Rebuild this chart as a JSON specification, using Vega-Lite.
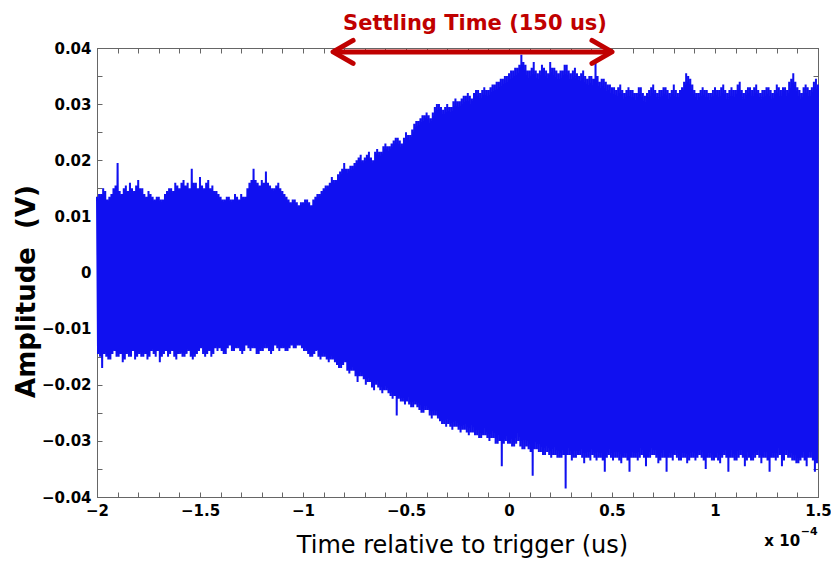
{
"$schema": "https://vega.github.io/schema/vega-lite/v6.json",
"width": 721, "height": 449,
"autosize": {"type": "none"},
"padding": {"left": 97, "top": 48, "right": 13, "bottom": 64},
"background": "white",
"config": {"view": {"stroke": "#666666", "strokeWidth": 1}},
"datasets": {
"sig": [
{"t":-2.000,"v":0.0135},{"t":-1.995,"v":-0.0145},{"t":-1.990,"v":0.0140},{"t":-1.985,"v":-0.0150},{"t":-1.980,"v":0.0140},{"t":-1.975,"v":-0.0170},{"t":-1.970,"v":0.0150},{"t":-1.965,"v":-0.0145},{"t":-1.960,"v":0.0145},{"t":-1.955,"v":-0.0150},
{"t":-1.950,"v":0.0130},{"t":-1.945,"v":-0.0155},{"t":-1.940,"v":0.0135},{"t":-1.935,"v":-0.0155},{"t":-1.930,"v":0.0140},{"t":-1.925,"v":-0.0145},{"t":-1.920,"v":0.0150},{"t":-1.915,"v":-0.0140},{"t":-1.910,"v":0.0155},{"t":-1.905,"v":-0.0150},
{"t":-1.900,"v":0.0195},{"t":-1.895,"v":-0.0150},{"t":-1.890,"v":0.0145},{"t":-1.885,"v":-0.0145},{"t":-1.880,"v":0.0140},{"t":-1.875,"v":-0.0160},{"t":-1.870,"v":0.0150},{"t":-1.865,"v":-0.0155},{"t":-1.860,"v":0.0155},{"t":-1.855,"v":-0.0145},
{"t":-1.850,"v":0.0145},{"t":-1.845,"v":-0.0150},{"t":-1.840,"v":0.0160},{"t":-1.835,"v":-0.0150},{"t":-1.830,"v":0.0150},{"t":-1.825,"v":-0.0140},{"t":-1.820,"v":0.0145},{"t":-1.815,"v":-0.0155},{"t":-1.810,"v":0.0155},{"t":-1.805,"v":-0.0150},
{"t":-1.800,"v":0.0165},{"t":-1.795,"v":-0.0145},{"t":-1.790,"v":0.0150},{"t":-1.785,"v":-0.0150},{"t":-1.780,"v":0.0150},{"t":-1.775,"v":-0.0150},{"t":-1.770,"v":0.0140},{"t":-1.765,"v":-0.0145},{"t":-1.760,"v":0.0135},{"t":-1.755,"v":-0.0155},
{"t":-1.750,"v":0.0145},{"t":-1.745,"v":-0.0150},{"t":-1.740,"v":0.0140},{"t":-1.735,"v":-0.0140},{"t":-1.730,"v":0.0135},{"t":-1.725,"v":-0.0145},{"t":-1.720,"v":0.0130},{"t":-1.715,"v":-0.0150},{"t":-1.710,"v":0.0135},{"t":-1.705,"v":-0.0140},
{"t":-1.700,"v":0.0135},{"t":-1.695,"v":-0.0160},{"t":-1.690,"v":0.0130},{"t":-1.685,"v":-0.0150},{"t":-1.680,"v":0.0130},{"t":-1.675,"v":-0.0145},{"t":-1.670,"v":0.0140},{"t":-1.665,"v":-0.0140},{"t":-1.660,"v":0.0145},{"t":-1.655,"v":-0.0150},
{"t":-1.650,"v":0.0150},{"t":-1.645,"v":-0.0145},{"t":-1.640,"v":0.0150},{"t":-1.635,"v":-0.0140},{"t":-1.630,"v":0.0145},{"t":-1.625,"v":-0.0150},{"t":-1.620,"v":0.0160},{"t":-1.615,"v":-0.0155},{"t":-1.610,"v":0.0155},{"t":-1.605,"v":-0.0145},
{"t":-1.600,"v":0.0150},{"t":-1.595,"v":-0.0145},{"t":-1.590,"v":0.0160},{"t":-1.585,"v":-0.0150},{"t":-1.580,"v":0.0165},{"t":-1.575,"v":-0.0150},{"t":-1.570,"v":0.0155},{"t":-1.565,"v":-0.0145},{"t":-1.560,"v":0.0160},{"t":-1.555,"v":-0.0140},
{"t":-1.550,"v":0.0150},{"t":-1.545,"v":-0.0150},{"t":-1.540,"v":0.0185},{"t":-1.535,"v":-0.0155},{"t":-1.530,"v":0.0160},{"t":-1.525,"v":-0.0150},{"t":-1.520,"v":0.0160},{"t":-1.515,"v":-0.0145},{"t":-1.510,"v":0.0150},{"t":-1.505,"v":-0.0140},
{"t":-1.500,"v":0.0170},{"t":-1.495,"v":-0.0135},{"t":-1.490,"v":0.0155},{"t":-1.485,"v":-0.0145},{"t":-1.480,"v":0.0150},{"t":-1.475,"v":-0.0150},{"t":-1.470,"v":0.0160},{"t":-1.465,"v":-0.0145},{"t":-1.460,"v":0.0165},{"t":-1.455,"v":-0.0140},
{"t":-1.450,"v":0.0150},{"t":-1.445,"v":-0.0150},{"t":-1.440,"v":0.0155},{"t":-1.435,"v":-0.0145},{"t":-1.430,"v":0.0145},{"t":-1.425,"v":-0.0135},{"t":-1.420,"v":0.0145},{"t":-1.415,"v":-0.0140},{"t":-1.410,"v":0.0140},{"t":-1.405,"v":-0.0135},
{"t":-1.400,"v":0.0135},{"t":-1.395,"v":-0.0140},{"t":-1.390,"v":0.0130},{"t":-1.385,"v":-0.0145},{"t":-1.380,"v":0.0130},{"t":-1.375,"v":-0.0145},{"t":-1.370,"v":0.0135},{"t":-1.365,"v":-0.0135},{"t":-1.360,"v":0.0135},{"t":-1.355,"v":-0.0130},
{"t":-1.350,"v":0.0130},{"t":-1.345,"v":-0.0140},{"t":-1.340,"v":0.0130},{"t":-1.335,"v":-0.0140},{"t":-1.330,"v":0.0140},{"t":-1.325,"v":-0.0135},{"t":-1.320,"v":0.0135},{"t":-1.315,"v":-0.0135},{"t":-1.310,"v":0.0130},{"t":-1.305,"v":-0.0140},
{"t":-1.300,"v":0.0140},{"t":-1.295,"v":-0.0145},{"t":-1.290,"v":0.0135},{"t":-1.285,"v":-0.0140},{"t":-1.280,"v":0.0135},{"t":-1.275,"v":-0.0130},{"t":-1.270,"v":0.0150},{"t":-1.265,"v":-0.0135},{"t":-1.260,"v":0.0160},{"t":-1.255,"v":-0.0140},
{"t":-1.250,"v":0.0165},{"t":-1.245,"v":-0.0135},{"t":-1.240,"v":0.0185},{"t":-1.235,"v":-0.0135},{"t":-1.230,"v":0.0165},{"t":-1.225,"v":-0.0145},{"t":-1.220,"v":0.0160},{"t":-1.215,"v":-0.0145},{"t":-1.210,"v":0.0155},{"t":-1.205,"v":-0.0140},
{"t":-1.200,"v":0.0165},{"t":-1.195,"v":-0.0140},{"t":-1.190,"v":0.0160},{"t":-1.185,"v":-0.0135},{"t":-1.180,"v":0.0180},{"t":-1.175,"v":-0.0135},{"t":-1.170,"v":0.0160},{"t":-1.165,"v":-0.0140},{"t":-1.160,"v":0.0155},{"t":-1.155,"v":-0.0145},
{"t":-1.150,"v":0.0150},{"t":-1.145,"v":-0.0140},{"t":-1.140,"v":0.0150},{"t":-1.135,"v":-0.0130},{"t":-1.130,"v":0.0155},{"t":-1.125,"v":-0.0135},{"t":-1.120,"v":0.0160},{"t":-1.115,"v":-0.0140},{"t":-1.110,"v":0.0150},{"t":-1.105,"v":-0.0135},
{"t":-1.100,"v":0.0145},{"t":-1.095,"v":-0.0135},{"t":-1.090,"v":0.0140},{"t":-1.085,"v":-0.0140},{"t":-1.080,"v":0.0135},{"t":-1.075,"v":-0.0140},{"t":-1.070,"v":0.0130},{"t":-1.065,"v":-0.0135},{"t":-1.060,"v":0.0125},{"t":-1.055,"v":-0.0130},
{"t":-1.050,"v":0.0130},{"t":-1.045,"v":-0.0135},{"t":-1.040,"v":0.0130},{"t":-1.035,"v":-0.0135},{"t":-1.030,"v":0.0125},{"t":-1.025,"v":-0.0130},{"t":-1.020,"v":0.0120},{"t":-1.015,"v":-0.0130},{"t":-1.010,"v":0.0125},{"t":-1.005,"v":-0.0135},
{"t":-1.000,"v":0.0125},{"t":-0.995,"v":-0.0140},{"t":-0.990,"v":0.0130},{"t":-0.985,"v":-0.0140},{"t":-0.980,"v":0.0130},{"t":-0.975,"v":-0.0145},{"t":-0.970,"v":0.0125},{"t":-0.965,"v":-0.0150},{"t":-0.960,"v":0.0120},{"t":-0.955,"v":-0.0150},
{"t":-0.950,"v":0.0130},{"t":-0.945,"v":-0.0145},{"t":-0.940,"v":0.0135},{"t":-0.935,"v":-0.0140},{"t":-0.930,"v":0.0140},{"t":-0.925,"v":-0.0150},{"t":-0.920,"v":0.0140},{"t":-0.915,"v":-0.0155},{"t":-0.910,"v":0.0145},{"t":-0.905,"v":-0.0150},
{"t":-0.900,"v":0.0150},{"t":-0.895,"v":-0.0150},{"t":-0.890,"v":0.0155},{"t":-0.885,"v":-0.0155},{"t":-0.880,"v":0.0155},{"t":-0.875,"v":-0.0160},{"t":-0.870,"v":0.0160},{"t":-0.865,"v":-0.0155},{"t":-0.860,"v":0.0170},{"t":-0.855,"v":-0.0155},
{"t":-0.850,"v":0.0165},{"t":-0.845,"v":-0.0160},{"t":-0.840,"v":0.0165},{"t":-0.835,"v":-0.0165},{"t":-0.830,"v":0.0175},{"t":-0.825,"v":-0.0170},{"t":-0.820,"v":0.0180},{"t":-0.815,"v":-0.0170},{"t":-0.810,"v":0.0185},{"t":-0.805,"v":-0.0165},
{"t":-0.800,"v":0.0195},{"t":-0.795,"v":-0.0160},{"t":-0.790,"v":0.0185},{"t":-0.785,"v":-0.0175},{"t":-0.780,"v":0.0185},{"t":-0.775,"v":-0.0180},{"t":-0.770,"v":0.0190},{"t":-0.765,"v":-0.0175},{"t":-0.760,"v":0.0190},{"t":-0.755,"v":-0.0175},
{"t":-0.750,"v":0.0195},{"t":-0.745,"v":-0.0185},{"t":-0.740,"v":0.0200},{"t":-0.735,"v":-0.0195},{"t":-0.730,"v":0.0205},{"t":-0.725,"v":-0.0185},{"t":-0.720,"v":0.0210},{"t":-0.715,"v":-0.0185},{"t":-0.710,"v":0.0200},{"t":-0.705,"v":-0.0190},
{"t":-0.700,"v":0.0205},{"t":-0.695,"v":-0.0200},{"t":-0.690,"v":0.0210},{"t":-0.685,"v":-0.0195},{"t":-0.680,"v":0.0215},{"t":-0.675,"v":-0.0195},{"t":-0.670,"v":0.0205},{"t":-0.665,"v":-0.0205},{"t":-0.660,"v":0.0200},{"t":-0.655,"v":-0.0210},
{"t":-0.650,"v":0.0215},{"t":-0.645,"v":-0.0200},{"t":-0.640,"v":0.0220},{"t":-0.635,"v":-0.0205},{"t":-0.630,"v":0.0215},{"t":-0.625,"v":-0.0210},{"t":-0.620,"v":0.0215},{"t":-0.615,"v":-0.0215},{"t":-0.610,"v":0.0225},{"t":-0.605,"v":-0.0210},
{"t":-0.600,"v":0.0230},{"t":-0.595,"v":-0.0210},{"t":-0.590,"v":0.0225},{"t":-0.585,"v":-0.0215},{"t":-0.580,"v":0.0225},{"t":-0.575,"v":-0.0220},{"t":-0.570,"v":0.0230},{"t":-0.565,"v":-0.0225},{"t":-0.560,"v":0.0235},{"t":-0.555,"v":-0.0220},
{"t":-0.550,"v":0.0240},{"t":-0.545,"v":-0.0255},{"t":-0.540,"v":0.0240},{"t":-0.535,"v":-0.0225},{"t":-0.530,"v":0.0235},{"t":-0.525,"v":-0.0230},{"t":-0.520,"v":0.0230},{"t":-0.515,"v":-0.0230},{"t":-0.510,"v":0.0240},{"t":-0.505,"v":-0.0235},
{"t":-0.500,"v":0.0250},{"t":-0.495,"v":-0.0230},{"t":-0.490,"v":0.0245},{"t":-0.485,"v":-0.0235},{"t":-0.480,"v":0.0245},{"t":-0.475,"v":-0.0240},{"t":-0.470,"v":0.0255},{"t":-0.465,"v":-0.0240},{"t":-0.460,"v":0.0265},{"t":-0.455,"v":-0.0235},
{"t":-0.450,"v":0.0270},{"t":-0.445,"v":-0.0240},{"t":-0.440,"v":0.0270},{"t":-0.435,"v":-0.0245},{"t":-0.430,"v":0.0275},{"t":-0.425,"v":-0.0250},{"t":-0.420,"v":0.0280},{"t":-0.415,"v":-0.0250},{"t":-0.410,"v":0.0280},{"t":-0.405,"v":-0.0245},
{"t":-0.400,"v":0.0285},{"t":-0.395,"v":-0.0245},{"t":-0.390,"v":0.0280},{"t":-0.385,"v":-0.0255},{"t":-0.380,"v":0.0275},{"t":-0.375,"v":-0.0260},{"t":-0.370,"v":0.0285},{"t":-0.365,"v":-0.0255},{"t":-0.360,"v":0.0295},{"t":-0.355,"v":-0.0255},
{"t":-0.350,"v":0.0300},{"t":-0.345,"v":-0.0260},{"t":-0.340,"v":0.0300},{"t":-0.335,"v":-0.0265},{"t":-0.330,"v":0.0295},{"t":-0.325,"v":-0.0270},{"t":-0.320,"v":0.0290},{"t":-0.315,"v":-0.0270},{"t":-0.310,"v":0.0295},{"t":-0.305,"v":-0.0275},
{"t":-0.300,"v":0.0300},{"t":-0.295,"v":-0.0270},{"t":-0.290,"v":0.0295},{"t":-0.285,"v":-0.0275},{"t":-0.280,"v":0.0295},{"t":-0.275,"v":-0.0280},{"t":-0.270,"v":0.0305},{"t":-0.265,"v":-0.0275},{"t":-0.260,"v":0.0310},{"t":-0.255,"v":-0.0275},
{"t":-0.250,"v":0.0305},{"t":-0.245,"v":-0.0280},{"t":-0.240,"v":0.0305},{"t":-0.235,"v":-0.0285},{"t":-0.230,"v":0.0310},{"t":-0.225,"v":-0.0280},{"t":-0.220,"v":0.0315},{"t":-0.215,"v":-0.0280},{"t":-0.210,"v":0.0315},{"t":-0.205,"v":-0.0285},
{"t":-0.200,"v":0.0320},{"t":-0.195,"v":-0.0290},{"t":-0.190,"v":0.0315},{"t":-0.185,"v":-0.0285},{"t":-0.180,"v":0.0310},{"t":-0.175,"v":-0.0285},{"t":-0.170,"v":0.0320},{"t":-0.165,"v":-0.0290},{"t":-0.160,"v":0.0325},{"t":-0.155,"v":-0.0290},
{"t":-0.150,"v":0.0325},{"t":-0.145,"v":-0.0295},{"t":-0.140,"v":0.0320},{"t":-0.135,"v":-0.0295},{"t":-0.130,"v":0.0325},{"t":-0.125,"v":-0.0290},{"t":-0.120,"v":0.0330},{"t":-0.115,"v":-0.0290},{"t":-0.110,"v":0.0325},{"t":-0.105,"v":-0.0295},
{"t":-0.100,"v":0.0325},{"t":-0.095,"v":-0.0300},{"t":-0.090,"v":0.0330},{"t":-0.085,"v":-0.0295},{"t":-0.080,"v":0.0335},{"t":-0.075,"v":-0.0295},{"t":-0.070,"v":0.0335},{"t":-0.065,"v":-0.0305},{"t":-0.060,"v":0.0340},{"t":-0.055,"v":-0.0305},
{"t":-0.050,"v":0.0340},{"t":-0.045,"v":-0.0300},{"t":-0.040,"v":0.0345},{"t":-0.035,"v":-0.0345},{"t":-0.030,"v":0.0345},{"t":-0.025,"v":-0.0305},{"t":-0.020,"v":0.0350},{"t":-0.015,"v":-0.0300},{"t":-0.010,"v":0.0350},{"t":-0.005,"v":-0.0305},
{"t":0.000,"v":0.0355},{"t":0.005,"v":-0.0305},{"t":0.010,"v":0.0360},{"t":0.015,"v":-0.0310},{"t":0.020,"v":0.0360},{"t":0.025,"v":-0.0310},{"t":0.030,"v":0.0365},{"t":0.035,"v":-0.0305},{"t":0.040,"v":0.0365},{"t":0.045,"v":-0.0300},
{"t":0.050,"v":0.0370},{"t":0.055,"v":-0.0310},{"t":0.060,"v":0.0388},{"t":0.065,"v":-0.0315},{"t":0.070,"v":0.0375},{"t":0.075,"v":-0.0315},{"t":0.080,"v":0.0370},{"t":0.085,"v":-0.0310},{"t":0.090,"v":0.0360},{"t":0.095,"v":-0.0315},
{"t":0.100,"v":0.0360},{"t":0.105,"v":-0.0320},{"t":0.110,"v":0.0365},{"t":0.115,"v":-0.0362},{"t":0.120,"v":0.0375},{"t":0.125,"v":-0.0315},{"t":0.130,"v":0.0360},{"t":0.135,"v":-0.0315},{"t":0.140,"v":0.0355},{"t":0.145,"v":-0.0320},
{"t":0.150,"v":0.0360},{"t":0.155,"v":-0.0320},{"t":0.160,"v":0.0370},{"t":0.165,"v":-0.0325},{"t":0.170,"v":0.0365},{"t":0.175,"v":-0.0325},{"t":0.180,"v":0.0360},{"t":0.185,"v":-0.0320},{"t":0.190,"v":0.0355},{"t":0.195,"v":-0.0325},
{"t":0.200,"v":0.0375},{"t":0.205,"v":-0.0330},{"t":0.210,"v":0.0365},{"t":0.215,"v":-0.0325},{"t":0.220,"v":0.0365},{"t":0.225,"v":-0.0325},{"t":0.230,"v":0.0360},{"t":0.235,"v":-0.0330},{"t":0.240,"v":0.0355},{"t":0.245,"v":-0.0330},
{"t":0.250,"v":0.0360},{"t":0.255,"v":-0.0330},{"t":0.260,"v":0.0360},{"t":0.265,"v":-0.0325},{"t":0.270,"v":0.0370},{"t":0.275,"v":-0.0385},{"t":0.280,"v":0.0370},{"t":0.285,"v":-0.0325},{"t":0.290,"v":0.0360},{"t":0.295,"v":-0.0325},
{"t":0.300,"v":0.0355},{"t":0.305,"v":-0.0335},{"t":0.310,"v":0.0360},{"t":0.315,"v":-0.0330},{"t":0.320,"v":0.0365},{"t":0.325,"v":-0.0330},{"t":0.330,"v":0.0355},{"t":0.335,"v":-0.0325},{"t":0.340,"v":0.0350},{"t":0.345,"v":-0.0325},
{"t":0.350,"v":0.0355},{"t":0.355,"v":-0.0330},{"t":0.360,"v":0.0360},{"t":0.365,"v":-0.0340},{"t":0.370,"v":0.0350},{"t":0.375,"v":-0.0330},{"t":0.380,"v":0.0345},{"t":0.385,"v":-0.0330},{"t":0.390,"v":0.0350},{"t":0.395,"v":-0.0335},
{"t":0.400,"v":0.0350},{"t":0.405,"v":-0.0325},{"t":0.410,"v":0.0345},{"t":0.415,"v":-0.0330},{"t":0.420,"v":0.0375},{"t":0.425,"v":-0.0335},{"t":0.430,"v":0.0350},{"t":0.435,"v":-0.0330},{"t":0.440,"v":0.0340},{"t":0.445,"v":-0.0330},
{"t":0.450,"v":0.0345},{"t":0.455,"v":-0.0335},{"t":0.460,"v":0.0345},{"t":0.465,"v":-0.0355},{"t":0.470,"v":0.0340},{"t":0.475,"v":-0.0330},{"t":0.480,"v":0.0335},{"t":0.485,"v":-0.0325},{"t":0.490,"v":0.0335},{"t":0.495,"v":-0.0330},
{"t":0.500,"v":0.0330},{"t":0.505,"v":-0.0335},{"t":0.510,"v":0.0330},{"t":0.515,"v":-0.0330},{"t":0.520,"v":0.0325},{"t":0.525,"v":-0.0330},{"t":0.530,"v":0.0330},{"t":0.535,"v":-0.0335},{"t":0.540,"v":0.0335},{"t":0.545,"v":-0.0340},
{"t":0.550,"v":0.0325},{"t":0.555,"v":-0.0330},{"t":0.560,"v":0.0320},{"t":0.565,"v":-0.0330},{"t":0.570,"v":0.0325},{"t":0.575,"v":-0.0335},{"t":0.580,"v":0.0330},{"t":0.585,"v":-0.0355},{"t":0.590,"v":0.0325},{"t":0.595,"v":-0.0330},
{"t":0.600,"v":0.0325},{"t":0.605,"v":-0.0330},{"t":0.610,"v":0.0320},{"t":0.615,"v":-0.0330},{"t":0.620,"v":0.0320},{"t":0.625,"v":-0.0335},{"t":0.630,"v":0.0330},{"t":0.635,"v":-0.0330},{"t":0.640,"v":0.0330},{"t":0.645,"v":-0.0325},
{"t":0.650,"v":0.0320},{"t":0.655,"v":-0.0330},{"t":0.660,"v":0.0315},{"t":0.665,"v":-0.0345},{"t":0.670,"v":0.0320},{"t":0.675,"v":-0.0330},{"t":0.680,"v":0.0325},{"t":0.685,"v":-0.0330},{"t":0.690,"v":0.0330},{"t":0.695,"v":-0.0325},
{"t":0.700,"v":0.0335},{"t":0.705,"v":-0.0325},{"t":0.710,"v":0.0325},{"t":0.715,"v":-0.0330},{"t":0.720,"v":0.0320},{"t":0.725,"v":-0.0340},{"t":0.730,"v":0.0325},{"t":0.735,"v":-0.0335},{"t":0.740,"v":0.0325},{"t":0.745,"v":-0.0330},
{"t":0.750,"v":0.0330},{"t":0.755,"v":-0.0330},{"t":0.760,"v":0.0330},{"t":0.765,"v":-0.0355},{"t":0.770,"v":0.0325},{"t":0.775,"v":-0.0330},{"t":0.780,"v":0.0320},{"t":0.785,"v":-0.0330},{"t":0.790,"v":0.0325},{"t":0.795,"v":-0.0335},
{"t":0.800,"v":0.0335},{"t":0.805,"v":-0.0325},{"t":0.810,"v":0.0325},{"t":0.815,"v":-0.0330},{"t":0.820,"v":0.0320},{"t":0.825,"v":-0.0335},{"t":0.830,"v":0.0325},{"t":0.835,"v":-0.0335},{"t":0.840,"v":0.0330},{"t":0.845,"v":-0.0330},
{"t":0.850,"v":0.0340},{"t":0.855,"v":-0.0330},{"t":0.860,"v":0.0355},{"t":0.865,"v":-0.0340},{"t":0.870,"v":0.0350},{"t":0.875,"v":-0.0335},{"t":0.880,"v":0.0345},{"t":0.885,"v":-0.0330},{"t":0.890,"v":0.0335},{"t":0.895,"v":-0.0330},
{"t":0.900,"v":0.0325},{"t":0.905,"v":-0.0335},{"t":0.910,"v":0.0320},{"t":0.915,"v":-0.0330},{"t":0.920,"v":0.0320},{"t":0.925,"v":-0.0325},{"t":0.930,"v":0.0325},{"t":0.935,"v":-0.0330},{"t":0.940,"v":0.0330},{"t":0.945,"v":-0.0335},
{"t":0.950,"v":0.0325},{"t":0.955,"v":-0.0350},{"t":0.960,"v":0.0325},{"t":0.965,"v":-0.0330},{"t":0.970,"v":0.0320},{"t":0.975,"v":-0.0330},{"t":0.980,"v":0.0320},{"t":0.985,"v":-0.0335},{"t":0.990,"v":0.0325},{"t":0.995,"v":-0.0335},
{"t":1.000,"v":0.0330},{"t":1.005,"v":-0.0330},{"t":1.010,"v":0.0325},{"t":1.015,"v":-0.0335},{"t":1.020,"v":0.0325},{"t":1.025,"v":-0.0340},{"t":1.030,"v":0.0330},{"t":1.035,"v":-0.0330},{"t":1.040,"v":0.0335},{"t":1.045,"v":-0.0325},
{"t":1.050,"v":0.0325},{"t":1.055,"v":-0.0330},{"t":1.060,"v":0.0320},{"t":1.065,"v":-0.0355},{"t":1.070,"v":0.0325},{"t":1.075,"v":-0.0330},{"t":1.080,"v":0.0330},{"t":1.085,"v":-0.0330},{"t":1.090,"v":0.0325},{"t":1.095,"v":-0.0335},
{"t":1.100,"v":0.0325},{"t":1.105,"v":-0.0335},{"t":1.110,"v":0.0335},{"t":1.115,"v":-0.0330},{"t":1.120,"v":0.0340},{"t":1.125,"v":-0.0325},{"t":1.130,"v":0.0325},{"t":1.135,"v":-0.0330},{"t":1.140,"v":0.0320},{"t":1.145,"v":-0.0345},
{"t":1.150,"v":0.0325},{"t":1.155,"v":-0.0335},{"t":1.160,"v":0.0330},{"t":1.165,"v":-0.0330},{"t":1.170,"v":0.0330},{"t":1.175,"v":-0.0335},{"t":1.180,"v":0.0325},{"t":1.185,"v":-0.0335},{"t":1.190,"v":0.0330},{"t":1.195,"v":-0.0330},
{"t":1.200,"v":0.0335},{"t":1.205,"v":-0.0325},{"t":1.210,"v":0.0325},{"t":1.215,"v":-0.0330},{"t":1.220,"v":0.0320},{"t":1.225,"v":-0.0340},{"t":1.230,"v":0.0325},{"t":1.235,"v":-0.0330},{"t":1.240,"v":0.0325},{"t":1.245,"v":-0.0330},
{"t":1.250,"v":0.0330},{"t":1.255,"v":-0.0335},{"t":1.260,"v":0.0330},{"t":1.265,"v":-0.0355},{"t":1.270,"v":0.0325},{"t":1.275,"v":-0.0330},{"t":1.280,"v":0.0320},{"t":1.285,"v":-0.0330},{"t":1.290,"v":0.0325},{"t":1.295,"v":-0.0335},
{"t":1.300,"v":0.0335},{"t":1.305,"v":-0.0330},{"t":1.310,"v":0.0330},{"t":1.315,"v":-0.0325},{"t":1.320,"v":0.0325},{"t":1.325,"v":-0.0345},{"t":1.330,"v":0.0330},{"t":1.335,"v":-0.0335},{"t":1.340,"v":0.0330},{"t":1.345,"v":-0.0325},
{"t":1.350,"v":0.0325},{"t":1.355,"v":-0.0330},{"t":1.360,"v":0.0340},{"t":1.365,"v":-0.0330},{"t":1.370,"v":0.0345},{"t":1.375,"v":-0.0335},{"t":1.380,"v":0.0355},{"t":1.385,"v":-0.0335},{"t":1.390,"v":0.0340},{"t":1.395,"v":-0.0340},
{"t":1.400,"v":0.0330},{"t":1.405,"v":-0.0340},{"t":1.410,"v":0.0325},{"t":1.415,"v":-0.0335},{"t":1.420,"v":0.0320},{"t":1.425,"v":-0.0330},{"t":1.430,"v":0.0330},{"t":1.435,"v":-0.0335},{"t":1.440,"v":0.0335},{"t":1.445,"v":-0.0345},
{"t":1.450,"v":0.0330},{"t":1.455,"v":-0.0330},{"t":1.460,"v":0.0325},{"t":1.465,"v":-0.0330},{"t":1.470,"v":0.0330},{"t":1.475,"v":-0.0335},{"t":1.480,"v":0.0340},{"t":1.485,"v":-0.0355},{"t":1.490,"v":0.0345},{"t":1.495,"v":-0.0340},
{"t":1.500,"v":0.0335}
]
},
"layer": [
{
"data": {"name": "sig"},
"mark": {"type": "line", "color": "#1010f0", "strokeWidth": 2},
"encoding": {
"x": {"field": "t", "type": "quantitative",
"scale": {"domain": [-2, 1.5], "nice": false, "zero": false},
"axis": {"orient": "bottom", "values": [-2,-1.9,-1.8,-1.7,-1.6,-1.5,-1.4,-1.3,-1.2,-1.1,-1,-0.9,-0.8,-0.7,-0.6,-0.5,-0.4,-0.3,-0.2,-0.1,0,0.1,0.2,0.3,0.4,0.5,0.6,0.7,0.8,0.9,1,1.1,1.2,1.3,1.4,1.5],
"format": ".1~f",
"labelExpr": "abs(datum.value*2 - round(datum.value*2)) < 0.000001 ? datum.label : ''",
"grid": false, "tickSize": -5, "labelPadding": 11, "domainColor": "#666666", "tickColor": "#666666",
"labelFont": "DejaVu Sans", "labelFontWeight": "bold", "labelFontSize": 15, "labelColor": "#000000",
"labelFlush": false, "labelOverlap": false,
"title": "Time relative to trigger (us)", "titleFont": "DejaVu Sans", "titleFontWeight": "normal", "titleFontSize": 24, "titleColor": "#000000",
"titleX": 365, "titleY": 55, "titleBaseline": "alphabetic", "titleAlign": "center"}},
"y": {"field": "v", "type": "quantitative",
"scale": {"domain": [-0.04, 0.04], "nice": false, "zero": false},
"axis": {"orient": "left", "values": [-0.04,-0.035,-0.03,-0.025,-0.02,-0.015,-0.01,-0.005,0,0.005,0.01,0.015,0.02,0.025,0.03,0.035,0.04],
"format": ".2~f",
"labelExpr": "abs(datum.value*100 - round(datum.value*100)) < 0.000001 ? datum.label : ''",
"grid": false, "tickSize": -5, "labelPadding": 11, "domainColor": "#666666", "tickColor": "#666666",
"labelFont": "DejaVu Sans", "labelFontWeight": "bold", "labelFontSize": 15, "labelColor": "#000000",
"labelFlush": false, "labelOverlap": false,
"title": "Amplitude\u00a0 (V)", "titleFont": "DejaVu Sans", "titleFontWeight": "bold", "titleFontSize": 26, "titleColor": "#000000",
"titleX": -71, "titleY": 243, "titleAngle": 270, "titleAlign": "center", "titleBaseline": "middle"}}
}
},
{
"data": {"values": [{"a": -0.85, "b": 0.495, "y": 0.0393}]},
"mark": {"type": "rule", "color": "#c00000", "strokeWidth": 5},
"encoding": {
"x": {"field": "a", "type": "quantitative",
"axis": {"orient": "top", "values": [-2,-1.9,-1.8,-1.7,-1.6,-1.5,-1.4,-1.3,-1.2,-1.1,-1,-0.9,-0.8,-0.7,-0.6,-0.5,-0.4,-0.3,-0.2,-0.1,0,0.1,0.2,0.3,0.4,0.5,0.6,0.7,0.8,0.9,1,1.1,1.2,1.3,1.4,1.5],
"labels": false, "title": null, "grid": false, "tickSize": -5, "domainColor": "#666666", "tickColor": "#666666"}},
"x2": {"field": "b"},
"y": {"field": "y", "type": "quantitative",
"axis": {"orient": "right", "values": [-0.04,-0.035,-0.03,-0.025,-0.02,-0.015,-0.01,-0.005,0,0.005,0.01,0.015,0.02,0.025,0.03,0.035,0.04],
"labels": false, "title": null, "grid": false, "tickSize": -5, "domainColor": "#666666", "tickColor": "#666666"}}
}
},
{
"data": {"values": [{"t": -0.854, "v": 0.0393, "dir": "left"}, {"t": 0.5, "v": 0.0393, "dir": "right"}]},
"mark": {"type": "point", "filled": false, "size": 529, "strokeWidth": 5, "strokeJoin": "round", "strokeCap": "round", "opacity": 1},
"encoding": {
"x": {"field": "t", "type": "quantitative", "axis": null},
"y": {"field": "v", "type": "quantitative", "axis": null},
"shape": {"field": "dir", "type": "nominal", "legend": null,
"scale": {"domain": ["left", "right"], "range": ["M 1.74 -1 L 0 0 L 1.74 1", "M -1.74 -1 L 0 0 L -1.74 1"]}},
"color": {"value": "#c00000"}
}
},
{
"data": {"values": [{"t": -0.165, "v": 0.0432, "label": "Settling Time (150 us)"}]},
"mark": {"type": "text", "font": "DejaVu Sans", "fontWeight": "bold", "fontSize": 21, "color": "#c00000", "align": "center", "baseline": "alphabetic"},
"encoding": {
"x": {"field": "t", "type": "quantitative", "axis": null},
"y": {"field": "v", "type": "quantitative", "axis": null},
"text": {"field": "label"}
}
},
{
"data": {"values": [{"t": 1.413, "v": -0.0487, "label": "x 10"}]},
"mark": {"type": "text", "font": "DejaVu Sans", "fontWeight": "bold", "fontSize": 15, "color": "#000000", "align": "right", "baseline": "alphabetic"},
"encoding": {
"x": {"field": "t", "type": "quantitative", "axis": null},
"y": {"field": "v", "type": "quantitative", "axis": null},
"text": {"field": "label"}
}
},
{
"data": {"values": [{"t": 1.416, "v": -0.0468, "label": "\u22124"}]},
"mark": {"type": "text", "font": "DejaVu Sans", "fontWeight": "bold", "fontSize": 11, "color": "#000000", "align": "left", "baseline": "alphabetic"},
"encoding": {
"x": {"field": "t", "type": "quantitative", "axis": null},
"y": {"field": "v", "type": "quantitative", "axis": null},
"text": {"field": "label"}
}
}
],
"resolve": {"axis": {"x": "independent", "y": "independent"}}
}
